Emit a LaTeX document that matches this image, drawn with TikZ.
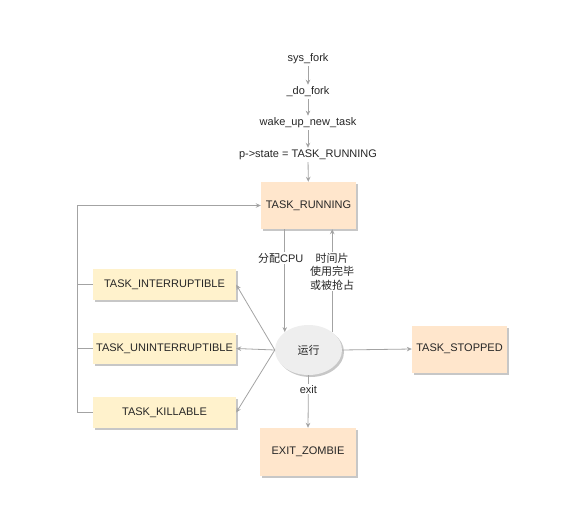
\documentclass[tikz,border=0pt]{standalone}
\usepackage{fontspec}
\setmainfont{Liberation Sans}
\newfontfamily\cjk{Noto Sans CJK SC}
\usetikzlibrary{arrows.meta,shapes.geometric,shadows}
\definecolor{lineg}{HTML}{A3A3A3}
\definecolor{txt}{HTML}{262626}
\definecolor{yel}{HTML}{FFF2CC}
\definecolor{ora}{HTML}{FFE6CC}
\definecolor{ell}{HTML}{EEEEEE}
\tikzset{
  base/.style={font=\fontsize{11}{13}\selectfont, text=txt},
  plain/.style={base, inner sep=2pt},
  shad/.style={drop shadow={shadow xshift=2pt, shadow yshift=-2pt, fill=black, opacity=0.22}},
  obox/.style={base, shad, fill=ora, minimum width=95pt, minimum height=47pt, inner sep=0pt},
  ybox/.style={base, shad, fill=yel, minimum width=143pt, minimum height=31pt, inner sep=0pt},
  eproc/.style={base, shad, ellipse, fill=ell, minimum width=67pt, minimum height=50pt, inner sep=0pt},
  conn/.style={draw=lineg, line width=0.8pt},
  arr/.style={conn, -{Stealth[length=5pt,width=4.5pt]}},
  lbl/.style={base, fill=white, inner sep=1pt},
}
\begin{document}
\begin{tikzpicture}[x=1pt,y=-1pt]
\useasboundingbox (0,0) rectangle (567,513);
\node[plain] (sys) at (308,59) {sys\_fork};
\node[plain] (dofork) at (308,92) {\_do\_fork};
\node[plain] (wake) at (308,123) {wake\_up\_new\_task};
\node[plain] (pstate) at (308,155) {p->state = TASK\_RUNNING};
\node[obox] (run) at (308.5,205.5) {TASK\_RUNNING};
\node[ybox] (intr) at (164.5,284.7) {TASK\_INTERRUPTIBLE};
\node[ybox] (unint) at (164.5,348.5) {TASK\_UNINTERRUPTIBLE};
\node[ybox] (kill) at (164.5,412.5) {TASK\_KILLABLE};
\node[eproc] (proc) at (308.5,350) {\cjk 运行};
\node[obox] (stop) at (459.5,349) {TASK\_STOPPED};
\node[obox, minimum width=96pt, minimum height=48pt] (zombie) at (308,452) {EXIT\_ZOMBIE};
\coordinate (lx) at (77,0);

\draw[arr] (sys) -- (dofork);
\draw[arr] (dofork) -- (wake);
\draw[arr] (wake) -- (pstate);
\draw[arr] (pstate) -- (run);

\draw[arr] (proc.143 |- run.south) -- node[lbl, pos=0.28, xshift=-4pt] {{\cjk 分配}CPU} (proc.143);
\draw[arr] (proc.37) -- node[lbl, pos=0.59, align=center, font=\cjk\fontsize{11}{13.5}\selectfont] {时间片\\使用完毕\\或被抢占} (proc.37 |- run.south);

\draw[arr] (kill.west) -- (kill.west -| lx) |- (run.west);
\draw[conn] (intr.west) -- (intr.west -| lx);
\draw[conn] (unint.west) -- (unint.west -| lx);

\draw[arr] (proc.west) -- (intr.east);
\draw[arr] (proc.west) -- (unint.east);
\draw[arr] (proc.west) -- (kill.east);
\draw[arr] (proc.east) -- (stop.west);
\draw[arr] (proc.south) -- node[lbl, pos=0.27] {exit} (zombie.north);
\end{tikzpicture}
\end{document}
